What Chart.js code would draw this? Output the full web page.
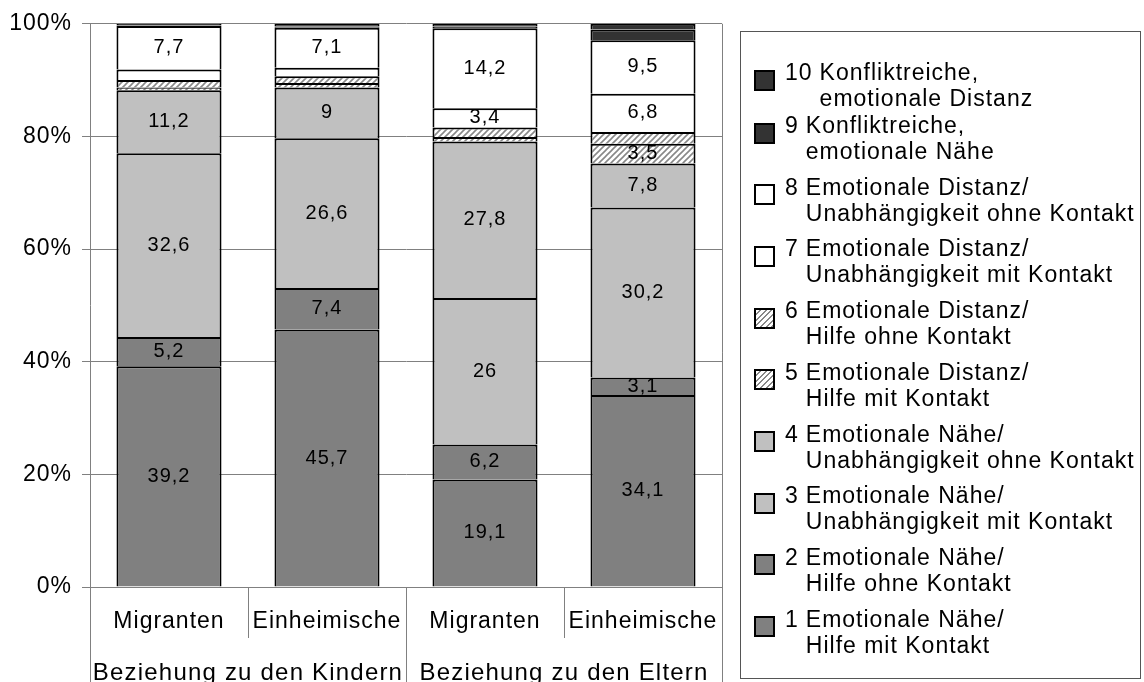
<!DOCTYPE html>
<html>
<head>
<meta charset="utf-8">
<script src="https://cdn.jsdelivr.net/npm/chart.js@4"></script>
<style>
body { margin: 0; background: #fff; font-family: 'Liberation Sans', Arial, sans-serif; }
#wrap { position: relative; width: 1144px; height: 682px; overflow: hidden; }
#chart { position: absolute; left: 0; top: 0; }
#legendBox { position: absolute; left: 740px; top: 31px; width: 399px; height: 646px; border: 1.5px solid #555; }
.item { position: absolute; left: 785px; font-size: 23px; letter-spacing: 1px; line-height: 26px; color: #000; display: flex; white-space: nowrap; }
.item .num { margin-right: 7px; }
.sw { position: absolute; left: 754px; width: 21px; height: 21px; box-sizing: border-box; border: 2px solid #000; }
</style>
</head>
<body>
<div id="wrap">
  <canvas id="chart" width="1144" height="682"></canvas>
  <div id="legendBox"></div>
</div>
<script>
const categories = ['Migranten', 'Einheimische', 'Migranten', 'Einheimische'];
const groups = ['Beziehung zu den Kindern', 'Beziehung zu den Eltern'];
const yTicks = [0, 20, 40, 60, 80, 100];

// series 1..10, bottom to top of each stack
const seriesNames = [
    '1 Emotionale Nähe/|Hilfe mit Kontakt',
    '2 Emotionale Nähe/|Hilfe ohne Kontakt',
    '3 Emotionale Nähe/|Unabhängigkeit mit Kontakt',
    '4 Emotionale Nähe/|Unabhängigkeit ohne Kontakt',
    '5 Emotionale Distanz/|Hilfe mit Kontakt',
    '6 Emotionale Distanz/|Hilfe ohne Kontakt',
    '7 Emotionale Distanz/|Unabhängigkeit mit Kontakt',
    '8 Emotionale Distanz/|Unabhängigkeit ohne Kontakt',
    '9 Konfliktreiche,|emotionale Nähe',
    '10 Konfliktreiche,|emotionale Distanz'
];
const s1 = [39.2, 45.7, 19.1, 34.1];
const s2 = [5.2, 7.4, 6.2, 3.1];
const s3 = [32.6, 26.6, 26, 30.2];
const s4 = [11.2, 9, 27.8, 7.8];
const s5 = [0.5, 0.8, 0.8, 3.5];
const s6 = [1.3, 1.2, 1.7, 2.1];
const s7 = [1.9, 1.5, 3.4, 6.8];
const s8 = [7.7, 7.1, 14.2, 9.5];
const s9 = [0.1, 0.2, 0.3, 1.9];
const s10 = [0.3, 0.5, 0.5, 1.0];
const seriesValues = [s1, s2, s3, s4, s5, s6, s7, s8, s9, s10];

const FONT = "'Liberation Sans', Arial, sans-serif";

function makeHatch() {
    const c = document.createElement('canvas');
    c.width = 6; c.height = 6;
    const g = c.getContext('2d');
    g.fillStyle = '#fff';
    g.fillRect(0, 0, 6, 6);
    g.strokeStyle = '#888';
    g.lineWidth = 1.6;
    g.beginPath();
    g.moveTo(-1, 7); g.lineTo(7, -1);
    g.moveTo(-1, 1); g.lineTo(1, -1);
    g.moveTo(5, 7); g.lineTo(7, 5);
    g.stroke();
    return document.getElementById('chart').getContext('2d').createPattern(c, 'repeat');
}
const hatch = makeHatch();
const fills = ['#808080', '#808080', '#c0c0c0', '#c0c0c0', hatch, hatch, '#ffffff', '#ffffff', '#333333', '#333333'];
const cssFills = ['#808080', '#808080', '#c0c0c0', '#c0c0c0', 'hatch', 'hatch', '#ffffff', '#ffffff', '#333333', '#333333'];

const datasets = seriesValues.map((vals, i) => ({
    label: seriesNames[i].replace('|', ' '),
    data: vals,
    backgroundColor: fills[i],
    borderColor: '#000',
    borderWidth: 2,
    categoryPercentage: 1,
    barPercentage: 0.665
}));

const extras = {
    id: 'extras',
    beforeDraw(chart) {
        chart.ctx.letterSpacing = '1px';
    },
    afterDatasetsDraw(chart) {
        const ctx = chart.ctx;
        ctx.save();
        ctx.font = '20px ' + FONT;
        ctx.fillStyle = '#000';
        ctx.textAlign = 'center';
        ctx.textBaseline = 'middle';
        chart.data.datasets.forEach((ds, i) => {
            const meta = chart.getDatasetMeta(i);
            meta.data.forEach((bar, j) => {
                const v = ds.data[j];
                if (v < 3) return;
                ctx.fillText(String(v).replace('.', ','), bar.x, (bar.y + bar.base) / 2);
            });
        });
        ctx.restore();
    },
    afterDraw(chart) {
        const ctx = chart.ctx;
        const x = chart.scales.x;
        const area = chart.chartArea;
        const w = (x.right - x.left) / categories.length;
        const H = chart.height;
        ctx.save();
        ctx.strokeStyle = '#808080';
        ctx.lineWidth = 1;
        ctx.beginPath();
        // outer lines and group separator
        [0, 2, 4].forEach(k => {
            const px = Math.round(x.left + k * w) + 0.5;
            ctx.moveTo(px, k === 4 ? area.top : area.bottom);
            ctx.lineTo(px, H);
        });
        // short separators between sub-categories
        [1, 3].forEach(k => {
            const px = Math.round(x.left + k * w) + 0.5;
            ctx.moveTo(px, area.bottom);
            ctx.lineTo(px, 638);
        });
        ctx.stroke();

        ctx.fillStyle = '#000';
        ctx.font = '24px ' + FONT;
        ctx.letterSpacing = '1.2px';
        ctx.textAlign = 'center';
        ctx.textBaseline = 'alphabetic';
        groups.forEach((g, k) => {
            const cx = x.left + (2 * k + 1) * w;
            ctx.fillText(g, cx, 680);
        });
        ctx.restore();
    }
};

Chart.defaults.font.family = FONT;

new Chart(document.getElementById('chart'), {
    type: 'bar',
    data: { labels: categories, datasets: datasets },
    plugins: [extras],
    options: {
        responsive: false,
        animation: false,
        layout: { padding: { top: 22, right: 422, left: 0, bottom: 0 } },
        plugins: {
            legend: { display: false },
            tooltip: { enabled: false }
        },
        scales: {
            x: {
                stacked: true,
                grid: { display: false, drawTicks: false },
                border: { display: true, color: '#808080' },
                ticks: { color: '#000', font: { size: 23 }, padding: 21, maxRotation: 0, autoSkip: false },
                afterFit(scale) { scale.height = 95; }
            },
            y: {
                stacked: true,
                min: 0,
                max: 100,
                afterBuildTicks(scale) { scale.ticks = yTicks.map(v => ({ value: v })); },
                grid: { color: '#808080', tickLength: 8 },
                border: { color: '#808080' },
                ticks: { color: '#000', font: { size: 23 }, padding: 10, callback: v => v + '%' },
                afterFit(scale) { scale.width = 90; }
            }
        }
    }
});

// legend, top item first (10 .. 1)
const wrap = document.getElementById('wrap');
for (let n = seriesNames.length - 1, row = 0; n >= 0; n--, row++) {
    const cy = row === 0 ? 72 : 125 + (row - 1) * 61.7;
    const parts = seriesNames[n].split('|');
    const num = parts[0].split(' ')[0];
    const first = parts[0].slice(num.length + 1);

    const sw = document.createElement('div');
    sw.className = 'sw';
    sw.style.top = (cy + 8 - 10.5) + 'px';
    if (cssFills[n] === 'hatch') {
        sw.style.background = 'repeating-linear-gradient(135deg, #fff 0 2.5px, #888 2.5px 4px)';
    } else {
        sw.style.background = cssFills[n];
    }
    wrap.appendChild(sw);

    const it = document.createElement('div');
    it.className = 'item';
    it.style.top = (cy - 13) + 'px';
    it.innerHTML = '<span class="num">' + num + '</span><span>' + first + '<br>' + parts[1] + '</span>';
    wrap.appendChild(it);
}
</script>
</body>
</html>
